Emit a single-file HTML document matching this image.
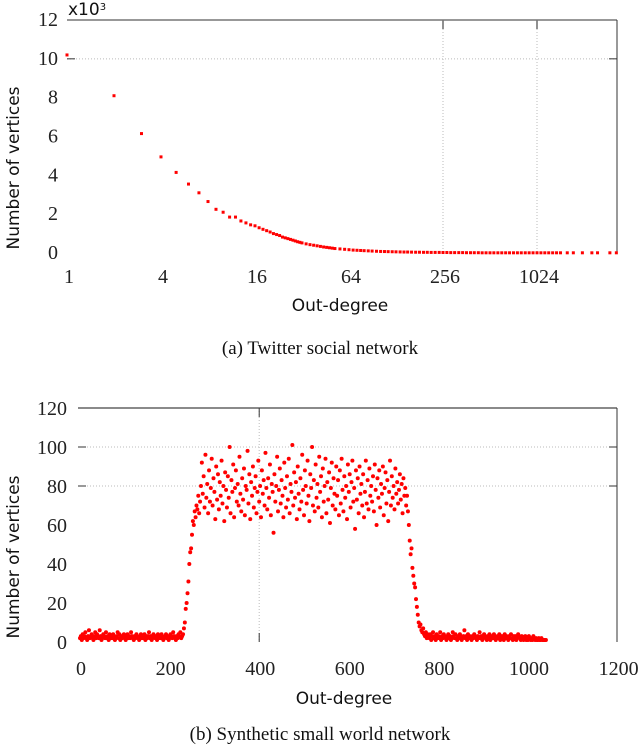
<!DOCTYPE html>
<html><head><meta charset="utf-8"><style>
body{margin:0;background:#fff;width:640px;height:745px;overflow:hidden}
svg{display:block}
.tk{font-family:"Liberation Serif",serif;font-size:20px;fill:#222}
.lab{font-family:"DejaVu Sans","Liberation Sans",sans-serif;font-size:17px;fill:#111}
.cap{font-family:"Liberation Serif",serif;font-size:19px;fill:#111}
</style></head><body>
<svg id="fig" width="640" height="745">
<g id="top"></g>
<g id="bot"></g>
<text class="cap" x="320" y="354" text-anchor="middle">(a) Twitter social network</text>
<text class="cap" x="320" y="740" text-anchor="middle">(b) Synthetic small world network</text>
</svg>
<script>
// ---- Top chart data ----
const topXTicks = [1, 4, 16, 64, 256, 1024];
const topYTicks = [0, 2, 4, 6, 8, 10, 12];
const topDegrees = [1,2,3,4,5,6,7,8,9,10,11,12,13,14,15,16,17,18,19,20,21,22,23,24,25,26,27,28,29,30,31,32,34,36,38,40,42,44,46,48,50,52,56,60,64,68,72,76,80,85,90,96,102,108,114,121,128,136,144,152,161,171,181,192,203,215,228,242,256,271,287,304,323,342,362,384,406,431,456,483,512,542,575,609,645,683,724,767,812,861,912,966,1024,1085,1149,1217,1290,1366,1448,1600,1750,2000,2300,2500,3000,3300];
const topCounts = [10.2,8.1,6.15,4.95,4.15,3.55,3.1,2.65,2.25,2.1,1.85,1.85,1.65,1.55,1.45,1.4,1.3,1.22,1.15,1.08,1.0,0.95,0.9,0.82,0.78,0.74,0.7,0.66,0.62,0.58,0.55,0.52,0.47,0.43,0.4,0.37,0.34,0.31,0.29,0.27,0.25,0.23,0.21,0.19,0.17,0.15,0.14,0.13,0.12,0.11,0.1,0.09,0.08,0.075,0.07,0.065,0.06,0.055,0.05,0.05,0.045,0.04,0.04,0.035,0.035,0.03,0.03,0.03,0.025,0.025,0.02,0.02,0.02,0.02,0.015,0.015,0.015,0.015,0.01,0.01,0.01,0.01,0.01,0.01,0.01,0.01,0.01,0.01,0.01,0.01,0.01,0.01,0.01,0.01,0.01,0.01,0.01,0.01,0.01,0.01,0.01,0.01,0.01,0.01,0.01,0.01];

// ---- Bottom chart data (degree = 2 * index) ----
const botXTicks = [0,200,400,600,800,1000,1200];
const botYTicks = [0,20,40,60,80,100,120];
const botStep = 2;
const botCounts = [
2,3,1,4,2,3,5,2,1,3, 6,2,3,4,2,1,3,5,2,4, 3,2,6,3,1,2,4,3,2,5, 2,3,1,4,2,3,2,4,3,1, 2,3,5,2,4,1,3,2,3,4, 2,1,3,4,2,3,2,5,3,2, 1,3,2,4,3,2,1,3,4,2, 3,2,4,1,3,2,3,5,2,3, 1,2,4,3,2,3,1,4,2,3, 2,4,3,1,2,3,4,2,3,1, 2,4,3,2,5,3,2,1,3,2, 4,3,5,2,3,
4,7,10,17,20,25,31,40,46,48,55,62,60,67,64,70,68,75,66,72,80,
92,76,85,69,96,74,81,66,88,72, 79,94,70,84,77,63,90,73,86,68, 82,75,93,71,80,62,87,78,69,85, 74,100,66,83,77,91,64,79,88,72, 81,70,95,76,67,84,73,89,65,80,
78,98,71,86,63,82,75,90,69,79, 85,66,77,93,72,80,64,88,76,83, 70,97,79,68,84,74,91,65,81,77, 56,86,72,80,95,67,78,89,71,83, 75,64,92,79,69,85,73,94,66,81,
77,101,70,87,74,82,63,90,76,68, 84,72,96,78,65,88,80,71,93,75, 62,86,79,100,70,83,67,91,74,81, 69,95,77,85,64,89,72,80,94,66, 82,73,87,61,79,92,70,84,76,68,
90,75,83,65,88,71,94,78,67,85, 74,80,63,91,77,86,69,82,93,72, 79,58,88,73,84,66,90,76,81,70, 86,64,77,93,71,83,68,89,75,80, 72,85,67,91,78,60,84,74,88,69,
81,76,90,65,79,87,71,83,62,77, 93,70,85,74,80,68,89,76,82,71, 78,86,73,81,66,84,75,79,70,
75,67,60,52,45,48,38,34,30,28,22,18,14,10,8,9,6,5,7,4,3,5,2,4,
3,2,4,1,3,5,2,3,1,4, 2,3,2,5,1,3,2,4,3,2, 1,3,4,2,3,1,2,5,3,2, 4,2,1,3,2,4,3,1,2,3, 6,2,3,1,4,2,3,2,1,3, 2,4,3,2,1,3,2,5,2,3, 1,2,4,3,2,1,3,2,4,1, 3,2,2,4,3,1,2,3,2,4, 1,3,2,3,1,4,2,3,2,1, 3,2,4,2,1,3,2,3,1,2, 4,3,2,1,3,2,1,2,3,1, 2,1,3,2,1,2,1,3,2,1, 2,1,1,2,1,1,2,1,1,1, 1,1];

const NS="http://www.w3.org/2000/svg";
function mk(parent,tag,attrs){const e=document.createElementNS(NS,tag);for(const k in attrs)e.setAttribute(k,attrs[k]);parent.appendChild(e);return e;}

// ---- top chart ----
(function(){
const g=document.getElementById('top');
const L=67,R=617,T=20,B=253;
const xs=d=>L+Math.log2(d)*47;
const ys=v=>B-v*(B-T)/12;
let e;
e=mk(g,'line',{x1:L,y1:ys(10),x2:R,y2:ys(10),stroke:'#bbb','stroke-dasharray':'1,2'});


[256,1024].forEach(t=>{e=mk(g,'line',{x1:xs(t),y1:T,x2:xs(t),y2:B,stroke:'#bbb','stroke-dasharray':'1,2'});


mk(g,'line',{x1:xs(t),y1:T,x2:xs(t),y2:T+9,stroke:'#555','stroke-width':1.3});});
e=mk(g,'line',{x1:L,y1:T,x2:R,y2:T,stroke:'#777','stroke-width':1.5});


e=mk(g,'line',{x1:R,y1:T,x2:R,y2:B,stroke:'#333','stroke-width':1});


mk(g,'line',{x1:L,y1:ys(10),x2:L+8,y2:ys(10),stroke:'#333'});
mk(g,'line',{x1:R-8,y1:ys(10),x2:R,y2:ys(10),stroke:'#333'});
topYTicks.forEach(t=>{e=mk(g,'text',{x:58,y:ys(t)+6,'text-anchor':'end',class:'tk'});e.textContent=t;

});
e=mk(g,'text',{x:68,y:15,class:'lab','font-size':'14'});e.innerHTML='x10<tspan dy="-5" font-size="10">3</tspan>';


topXTicks.forEach(t=>{e=mk(g,'text',{x:xs(t)+2,y:283,'text-anchor':'middle',class:'tk'});e.textContent=t;

});
e=mk(g,'text',{x:340,y:311,'text-anchor':'middle',class:'lab'});e.textContent='Out-degree';


e=mk(g,'text',{x:0,y:0,'text-anchor':'middle',class:'lab',transform:'translate(19,168) rotate(-90)'});e.textContent='Number of vertices';


topDegrees.forEach((d,i)=>{e=mk(g,'rect',{x:xs(d)-1.5,y:ys(topCounts[i])-1.5,width:3,height:3,fill:'#f00'});

});
})();

// ---- bottom chart ----
(function(){
const g=document.getElementById('bot');
const L=78,R=617,T=408,B=642;
const xs=d=>80+d*0.448;
const ys=v=>B-v*(B-T)/120;
let e;
[80,100].forEach(t=>{e=mk(g,'line',{x1:L,y1:ys(t),x2:R,y2:ys(t),stroke:'#bbb','stroke-dasharray':'1,2'});


mk(g,'line',{x1:L,y1:ys(t),x2:L+8,y2:ys(t),stroke:'#333'});
mk(g,'line',{x1:R-8,y1:ys(t),x2:R,y2:ys(t),stroke:'#333'});});
e=mk(g,'line',{x1:xs(400),y1:T,x2:xs(400),y2:B,stroke:'#bbb','stroke-dasharray':'1,2'});


mk(g,'line',{x1:xs(400),y1:T,x2:xs(400),y2:T+9,stroke:'#333'});
mk(g,'line',{x1:xs(400),y1:B-9,x2:xs(400),y2:B,stroke:'#333'});
e=mk(g,'line',{x1:L,y1:T,x2:R,y2:T,stroke:'#444','stroke-width':1.2});


e=mk(g,'line',{x1:R,y1:T,x2:R,y2:B,stroke:'#333'});


botYTicks.forEach(t=>{e=mk(g,'text',{x:67,y:ys(t)+7,'text-anchor':'end',class:'tk'});e.textContent=t;

});
botXTicks.forEach(t=>{e=mk(g,'text',{x:xs(t)+1,y:675,'text-anchor':'middle',class:'tk'});e.textContent=t;

});
e=mk(g,'text',{x:344,y:704,'text-anchor':'middle',class:'lab'});e.textContent='Out-degree';


e=mk(g,'text',{x:0,y:0,'text-anchor':'middle',class:'lab',transform:'translate(19,557) rotate(-90)'});e.textContent='Number of vertices';


botCounts.forEach((v,i)=>{e=mk(g,'circle',{cx:xs(i*botStep),cy:ys(v),r:2,fill:'#f00'});

});
})();
</script>
</body></html>
